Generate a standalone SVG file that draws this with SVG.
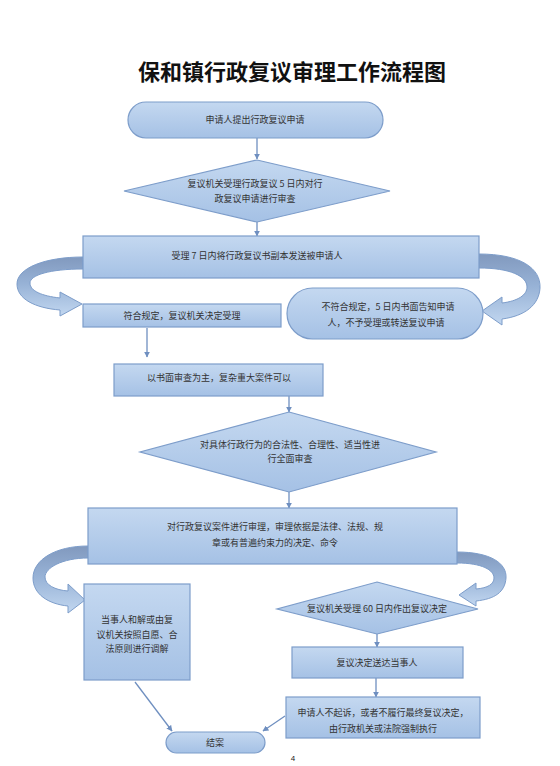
<svg xmlns="http://www.w3.org/2000/svg" width="560" height="766" viewBox="0 0 560 766">
<defs>
<linearGradient id="g" x1="0" y1="0" x2="0" y2="1">
<stop offset="0" stop-color="#c4d8f0"/>
<stop offset="1" stop-color="#a5c1e5"/>
</linearGradient>
<linearGradient id="ga" x1="0" y1="0" x2="0" y2="1">
<stop offset="0" stop-color="#8199be"/>
<stop offset="0.45" stop-color="#97b2d6"/>
<stop offset="1" stop-color="#c2d7f0"/>
</linearGradient>
<marker id="ah" viewBox="0 0 10 10" refX="9" refY="5" markerWidth="6" markerHeight="6" orient="auto" markerUnits="userSpaceOnUse">
<path d="M0,0 L10,5 L0,10 z" fill="#6f8fc0"/>
</marker>
<style>
.n{fill:url(#g);stroke:#7d9dca;stroke-width:1.2}
.ca{fill:url(#ga);stroke:#7d9dca;stroke-width:1}
.t{font-family:"Noto Sans CJK SC","Liberation Sans",sans-serif;font-size:9px;fill:#333;text-anchor:middle}
.c{stroke:#6f8fc0;stroke-width:1.3;fill:none;marker-end:url(#ah)}
</style>
</defs>
<rect width="560" height="766" fill="#ffffff"/>
<text x="292" y="80" font-family="'Noto Sans CJK SC',sans-serif" font-size="22" font-weight="bold" text-anchor="middle" fill="#111">保和镇行政复议审理工作流程图</text>

<g id="connectors">
<line class="c" x1="257" y1="138" x2="257" y2="159"/>
<line class="c" x1="257" y1="222" x2="257" y2="236"/>
<line class="c" x1="147" y1="328" x2="147" y2="357"/>
<line class="c" x1="289" y1="396" x2="289" y2="412"/>
<line class="c" x1="289" y1="492" x2="289" y2="508"/>
<line class="c" x1="377" y1="634" x2="377" y2="647"/>
<line class="c" x1="376" y1="678" x2="376" y2="697"/>
<line class="c" x1="135" y1="682" x2="172" y2="731"/>
<line class="c" x1="285" y1="716" x2="263" y2="731"/>
<path class="ca" d="M83,257 C45,257 17,268 17,284 C17,299 35,308 60,310 L60,316 L82,304 L60,292 L60,298 C42,296 30,291 30,283 C30,275 50,269 83,269 Z"/>
<path class="ca" d="M479,254 C520,254 541,268 540,288 C539,305 525,316 502,319 L502,325 L482,311 L502,297 L502,303 C518,301 527,295 527,287 C527,276 510,268 479,268 Z"/>
<path class="ca" d="M88,546 C55,546 33,560 33,578 C33,594 48,604 68,606 L68,613 L85,600 L68,584 L68,591 C55,590 45,585 45,577 C45,568 62,558 88,558 Z"/>
<path class="ca" d="M457,552 C490,552 507,563 506,578 C505,592 495,599 476,601 L476,606 L459,595 L476,583 L476,589 C488,588 494,584 494,578 C494,570 482,563 457,563 Z"/>
</g>

<g id="n1"><rect class="n" x="128" y="102" width="255" height="36" rx="18"/><text class="t" x="255" y="123">申请人提出行政复议申请</text></g>
<g id="n2"><polygon class="n" points="257,160 390,191 257,222 124,191"/><text class="t" x="255" y="187">复议机关受理行政复议 5 日内对行</text><text class="t" x="255" y="202">政复议申请进行审查</text></g>
<g id="n3"><rect class="n" x="83" y="236" width="396" height="42"/><text class="t" x="257" y="259">受理 7 日内将行政复议书副本发送被申请人</text></g>
<g id="n4"><rect class="n" x="83" y="304" width="198" height="23"/><text class="t" x="182" y="319">符合规定，复议机关决定受理</text></g>
<g id="n5"><rect class="n" x="287" y="288" width="196" height="51" rx="25.5"/><text class="t" x="388" y="310">不符合规定，5 日内书面告知申请</text><text class="t" x="386" y="326">人，不予受理或转送复议申请</text></g>
<g id="n6"><rect class="n" x="114" y="364" width="209" height="32"/><text class="t" x="219" y="381">以书面审查为主，复杂重大案件可以</text></g>
<g id="n7"><polygon class="n" points="289,412 436,452 289,492 140,452"/><text class="t" x="290" y="448">对具体行政行为的合法性、合理性、适当性进</text><text class="t" x="290" y="462">行全面审查</text></g>
<g id="n8"><rect class="n" x="88" y="508" width="369" height="56"/><text class="t" x="275" y="530">对行政复议案件进行审理，审理依据是法律、法规、规</text><text class="t" x="275" y="546">章或有普遍约束力的决定、命令</text></g>
<g id="n9"><rect class="n" x="84" y="584" width="106" height="96"/><text class="t" x="137" y="623">当事人和解或由复</text><text class="t" x="137" y="638">议机关按照自愿、合</text><text class="t" x="137" y="652">法原则进行调解</text></g>
<g id="n10"><polygon class="n" points="377,582 478,609 377,634 277,609"/><text class="t" x="377" y="612">复议机关受理 60 日内作出复议决定</text></g>
<g id="n11"><rect class="n" x="292" y="647" width="171" height="31"/><text class="t" x="377" y="666">复议决定送达当事人</text></g>
<g id="n12"><rect class="n" x="286" y="697" width="194" height="41"/><text class="t" x="383" y="716">申请人不起诉，或者不履行最终复议决定，</text><text class="t" x="383" y="732">由行政机关或法院强制执行</text></g>
<g id="n13"><rect class="n" x="166" y="732" width="99" height="21" rx="10.5"/><text class="t" x="215" y="746">结案</text></g>
<text x="293" y="761" font-family="'Liberation Sans',sans-serif" font-size="8" text-anchor="middle" fill="#222">4</text>
</svg>
